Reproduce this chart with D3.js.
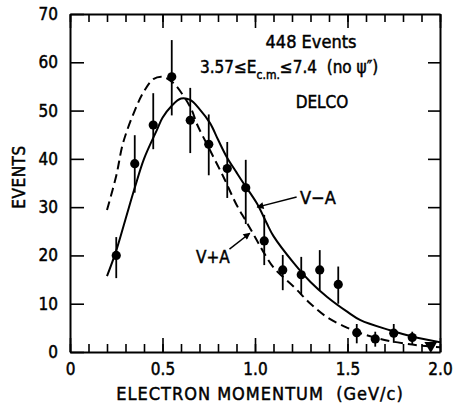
<!DOCTYPE html>
<html>
<head>
<meta charset="utf-8">
<script src="https://cdn.jsdelivr.net/npm/d3@7"></script>
<style>
  body { margin: 0; background: #fff; }
  svg { display: block; font-family: "DejaVu Sans Condensed", "DejaVu Sans", sans-serif; }
  svg text { stroke: #000; stroke-width: 0.45px; }
  .axis path, .axis line { stroke: #000; }
  .axis text { fill: #000; font-size: 17px; font-family: "DejaVu Sans Condensed", "DejaVu Sans", sans-serif; }
</style>
</head>
<body>
<div id="chart"></div>
<script>
// measured electron momentum spectrum (GeV/c), events per 0.1 GeV/c bin
const momentum = [0.25, 0.35, 0.45, 0.55, 0.65, 0.75, 0.85, 0.95, 1.05, 1.15, 1.25, 1.35, 1.45, 1.55, 1.65, 1.75, 1.85];
const events   = [20, 39, 47, 57, 48, 43, 38, 34, 23, 17, 16, 17, 14, 4, 2.7, 3.9, 3];
const errLow   = [15.3, 33, 42, 49, 41.2, 36.6, 31.9, 26.5, 18, 12.8, 11.8, 12.8, 10, 1.8, 1.1, 1.9, 1.6];
const errHigh  = [23.8, 44.9, 53.6, 64.6, 54.7, 49.2, 43.5, 39.8, 28.4, 20.1, 19.7, 21.1, 17.7, 5.8, 4.2, 5.8, 4.2];
// last bin drawn as an upper-limit marker
const limitPoint = { x: 1.95, y: 1.1 };

// V-A prediction (solid)
const vmaP = [0.20, 0.25, 0.30, 0.35, 0.40, 0.47, 0.50, 0.55, 0.60, 0.65, 0.70, 0.757, 0.80, 0.847, 0.90, 0.937, 1.01, 1.063, 1.10, 1.21, 1.30, 1.39, 1.50, 1.57, 1.73, 1.85, 2.00];
const vmaN = [15.7, 21, 27.5, 34, 40, 46, 48.5, 51, 52.5, 52.2, 50.3, 47.4, 44, 40.4, 37.2, 35, 30.8, 26.7, 24, 18.4, 14.5, 11.4, 8.3, 6.6, 4.5, 3.2, 2.0];
// V+A prediction (dashed)
const vpaP = [0.20, 0.25, 0.287, 0.35, 0.40, 0.45, 0.50, 0.55, 0.60, 0.658, 0.685, 0.75, 0.829, 0.90, 0.95, 1.00, 1.04, 1.10, 1.21, 1.30, 1.39, 1.50, 1.57, 1.70, 1.80, 1.90, 2.00];
const vpaN = [29.4, 36.5, 43.3, 50, 54, 56.5, 57, 56, 53.8, 50.1, 47.3, 42.3, 36.3, 30.5, 27.2, 23.8, 21.1, 17.5, 13.5, 10, 7.2, 5, 3.9, 2.5, 1.8, 1.3, 1.0];

const xMajor = [0, 0.5, 1.0, 1.5, 2.0];
const yTicks = [0, 10, 20, 30, 40, 50, 60, 70];

const width = 456, height = 406;
const margin = { top: 14, right: 16, bottom: 54, left: 70 };

const svg = d3.select("#chart").append("svg")
  .attr("width", width)
  .attr("height", height);

const x = d3.scaleLinear().domain([0, 2]).range([margin.left, width - margin.right]);
const y = d3.scaleLinear().domain([0, 70]).range([height - margin.bottom, margin.top]);

const minorX = d3.range(0, 21).map(i => i / 10);
const fmtX = d => d === 0 ? "0" : d3.format(".1f")(d);

// bottom axis: minor then major ticks, pointing inward
svg.append("g").attr("class", "axis")
  .attr("transform", `translate(0,${y(0)})`)
  .call(d3.axisBottom(x).tickValues(minorX).tickSize(-8).tickSizeOuter(0).tickFormat(""))
  .call(g => g.selectAll("line").attr("stroke-width", 1.6))
  .call(g => g.select(".domain").attr("stroke-width", 2));
svg.append("g").attr("class", "axis")
  .attr("transform", `translate(0,${y(0)})`)
  .call(d3.axisBottom(x).tickValues(xMajor).tickSize(-14).tickSizeOuter(0).tickPadding(11).tickFormat(fmtX))
  .call(g => g.selectAll("line").attr("stroke-width", 1.6))
  .call(g => g.select(".domain").remove());

// top axis
svg.append("g").attr("class", "axis")
  .attr("transform", `translate(0,${y(70)})`)
  .call(d3.axisTop(x).tickValues(minorX).tickSize(-8).tickSizeOuter(0).tickFormat(""))
  .call(g => g.selectAll("line").attr("stroke-width", 1.6))
  .call(g => g.select(".domain").attr("stroke-width", 2));
svg.append("g").attr("class", "axis")
  .attr("transform", `translate(0,${y(70)})`)
  .call(d3.axisTop(x).tickValues(xMajor).tickSize(-14).tickSizeOuter(0).tickFormat(""))
  .call(g => g.selectAll("line").attr("stroke-width", 1.6))
  .call(g => g.select(".domain").remove());

// left axis
svg.append("g").attr("class", "axis")
  .attr("transform", `translate(${x(0)},0)`)
  .call(d3.axisLeft(y).tickValues(yTicks).tickSize(-14).tickSizeOuter(0).tickPadding(12))
  .call(g => g.selectAll("line").attr("stroke-width", 1.6))
  .call(g => g.select(".domain").attr("stroke-width", 2));

// right axis
svg.append("g").attr("class", "axis")
  .attr("transform", `translate(${x(2)},0)`)
  .call(d3.axisRight(y).tickValues(yTicks.slice(1, -1)).tickSize(-12).tickSizeOuter(0).tickFormat(""))
  .call(g => g.selectAll("line").attr("stroke-width", 1.6))
  .call(g => g.select(".domain").attr("stroke-width", 2));

// theory curves
const line = d3.line()
  .x(d => x(d[0]))
  .y(d => y(d[1]))
  .curve(d3.curveCatmullRom.alpha(0.5));

svg.append("path")
  .attr("d", line(d3.zip(vmaP, vmaN)))
  .attr("fill", "none")
  .attr("stroke", "#000")
  .attr("stroke-width", 2);

svg.append("path")
  .attr("d", line(d3.zip(vpaP, vpaN)))
  .attr("fill", "none")
  .attr("stroke", "#000")
  .attr("stroke-width", 2)
  .attr("stroke-dasharray", "9,5");

// data with error bars
const pts = momentum.map((m, i) => ({ x: m, y: events[i], lo: errLow[i], hi: errHigh[i] }));

svg.append("g")
  .selectAll("line")
  .data(pts)
  .join("line")
  .attr("x1", d => x(d.x))
  .attr("x2", d => x(d.x))
  .attr("y1", d => y(d.lo))
  .attr("y2", d => y(d.hi))
  .attr("stroke", "#000")
  .attr("stroke-width", 1.8);

svg.append("g")
  .selectAll("circle")
  .data(pts)
  .join("circle")
  .attr("cx", d => x(d.x))
  .attr("cy", d => y(d.y))
  .attr("r", 4.6)
  .attr("fill", "#000");

svg.append("path")
  .attr("d", d3.symbol().type(d3.symbolTriangle).size(70))
  .attr("transform", `translate(${x(limitPoint.x)},${y(limitPoint.y) - 1}) rotate(180)`)
  .attr("fill", "#000");

// annotations
svg.append("defs").append("marker")
  .attr("id", "arrow")
  .attr("viewBox", "0 0 10 10")
  .attr("refX", 9).attr("refY", 5)
  .attr("markerWidth", 9).attr("markerHeight", 7)
  .attr("markerUnits", "userSpaceOnUse")
  .attr("orient", "auto")
  .append("path")
  .attr("d", "M0,0 L10,5 L0,10 Z")
  .attr("fill", "#000");

const arrows = [
  { from: [1.225, 32.1], to: [1.012, 30.0] },
  { from: [0.862, 21.3], to: [0.972, 24.6] }
];
svg.append("g")
  .selectAll("line")
  .data(arrows)
  .join("line")
  .attr("x1", d => x(d.from[0])).attr("y1", d => y(d.from[1]))
  .attr("x2", d => x(d.to[0])).attr("y2", d => y(d.to[1]))
  .attr("stroke", "#000")
  .attr("stroke-width", 1.5)
  .attr("marker-end", "url(#arrow)");

const txt = (tx, ty, s, size, anchor) => svg.append("text")
  .attr("x", tx).attr("y", ty)
  .attr("font-size", size)
  .attr("text-anchor", anchor || "start")
  .attr("fill", "#000")
  .text(s);

txt(300, 204, "V\u2212A", 18);
txt(196, 263, "V+A", 17);

txt(311, 48, "448 Events", 18, "middle");
const l2 = svg.append("text").attr("x", 200).attr("y", 73).attr("font-size", 17).attr("fill", "#000");
l2.append("tspan").text("3.57\u2264E");
l2.append("tspan").attr("font-size", 12).attr("dy", 6).text("c.m.");
l2.append("tspan").attr("dy", -6).text("\u22647.4\u00a0 (no \u03c8\u2033)");
txt(322, 108, "DELCO", 17, "middle");

txt(260, 400, "ELECTRON MOMENTUM\u00a0 (GeV/c)", 18, "middle")
  .attr("letter-spacing", 1);
svg.append("text")
  .attr("transform", `translate(25,177) rotate(-90)`)
  .attr("font-size", 17)
  .attr("text-anchor", "middle")
  .attr("fill", "#000")
  .attr("letter-spacing", 0.5)
  .text("EVENTS");
</script>
</body>
</html>
